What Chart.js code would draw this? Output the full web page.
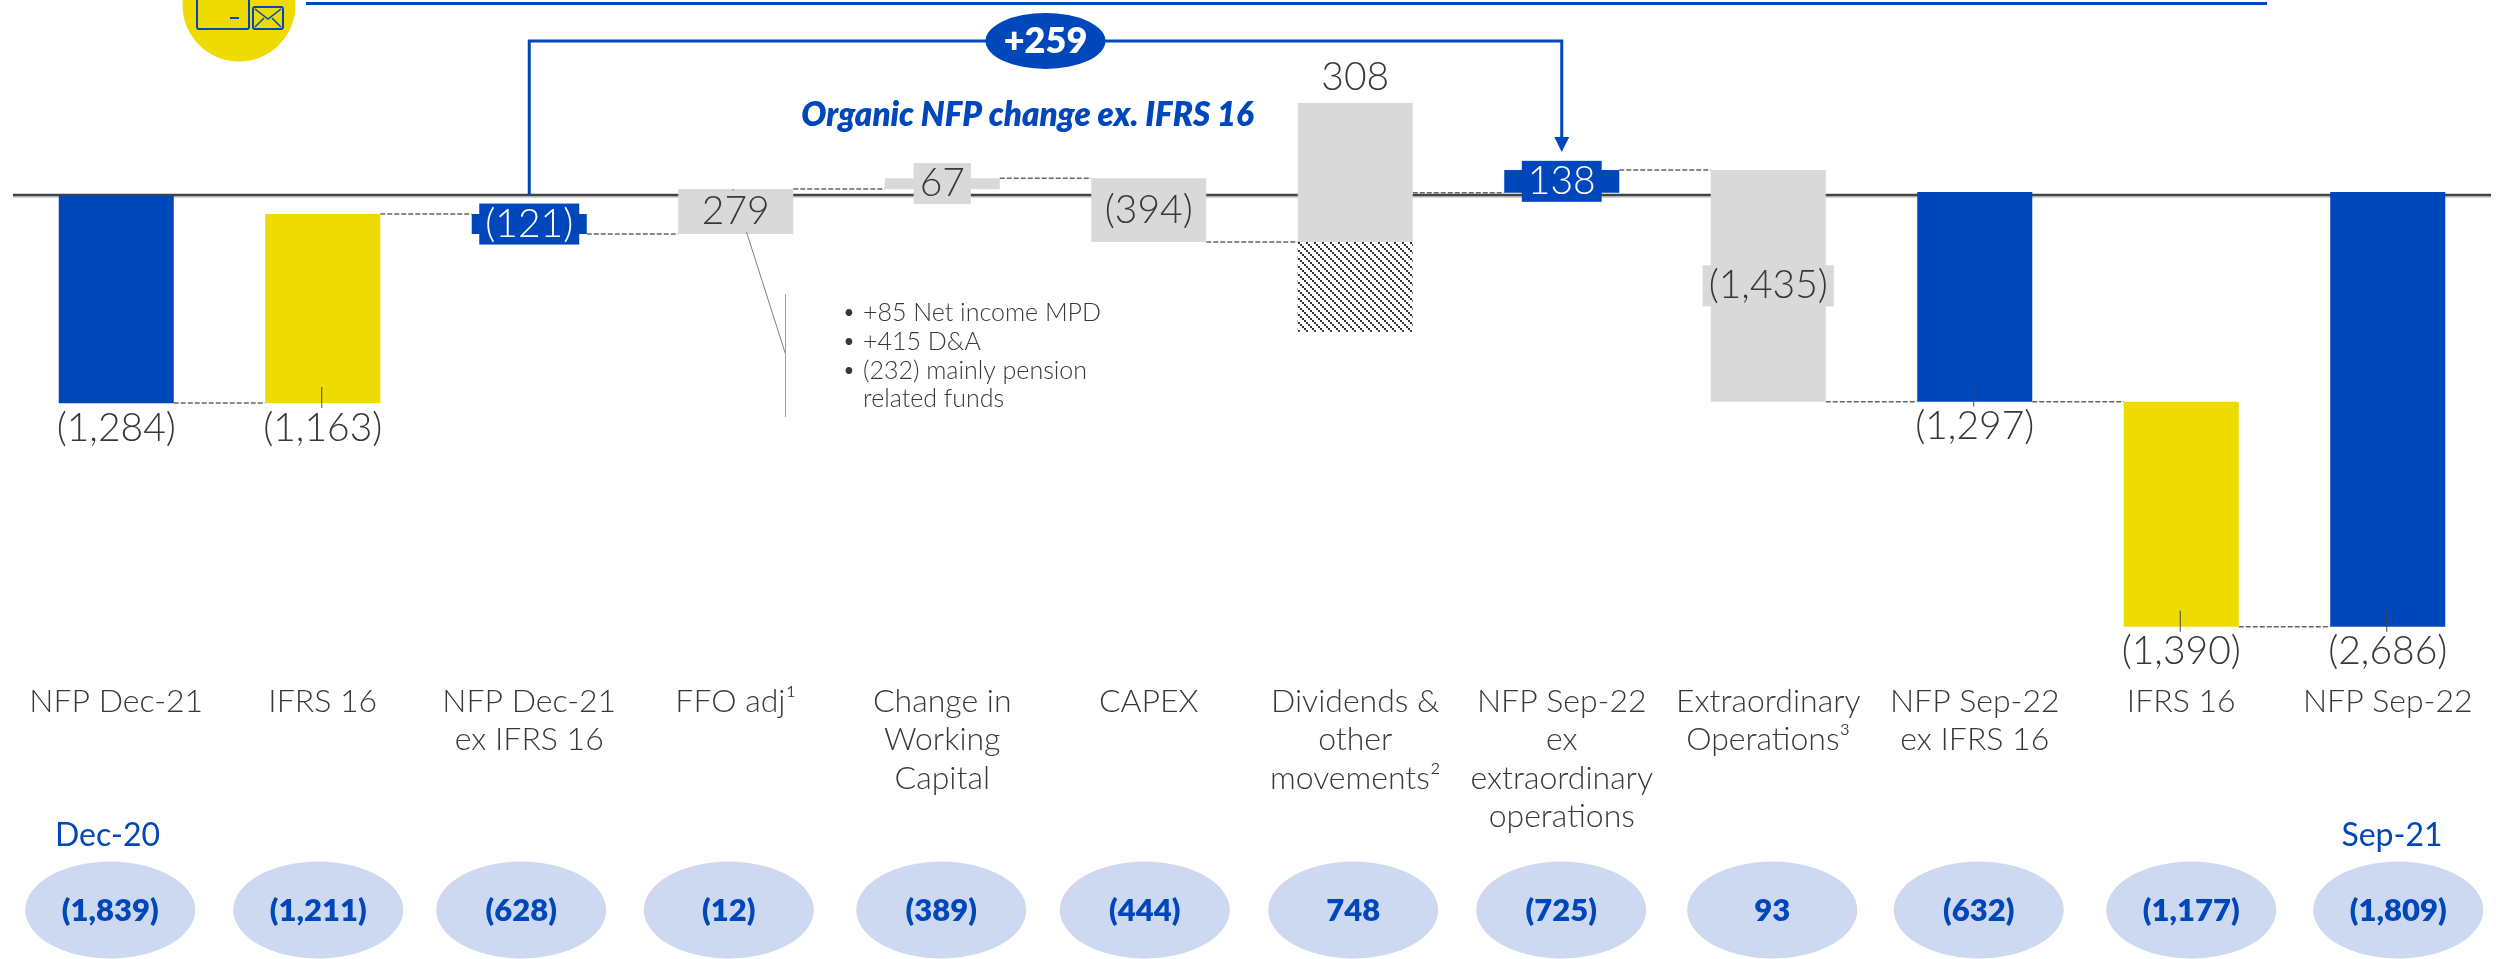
<!DOCTYPE html>
<html>
<head>
<meta charset="utf-8">
<title>NFP bridge</title>
<script src="https://cdn.jsdelivr.net/npm/chart.js@4/dist/chart.umd.min.js"></script>
<style>
    html, body { margin: 0; padding: 0; background: #fff; overflow: hidden; }
    canvas { display: block; }
</style>
</head>
<body>
<canvas id="bridge-chart" width="2496" height="959"></canvas>
<script>
const categories = [
    ['NFP Dec-21'], ['IFRS 16'], ['NFP Dec-21', 'ex IFRS 16'], ['FFO adj¹'],
    ['Change in', 'Working', 'Capital'], ['CAPEX'], ['Dividends &', 'other', 'movements²'],
    ['NFP Sep-22', 'ex', 'extraordinary', 'operations'], ['Extraordinary', 'Operations³'],
    ['NFP Sep-22', 'ex IFRS 16'], ['IFRS 16'], ['NFP Sep-22']
];
// bar ends, same units as the labels
const barTops = [0, -115, -115, 40, 107, 106, 572, 158, 158, 22, -1274, 22];
const barBottoms = [-1284, -1282, -238, -238, 40, -287, -287, 17, -1274, -1274, -2665, -2665];
const hatchTop = -287;
const hatchBottom = -842;
const valueLabels = ['(1,284)', '(1,163)', '(121)', '279', '67', '(394)', '308', '138', '(1,435)', '(1,297)', '(1,390)', '(2,686)'];
const priorValues = ['(1,839)', '(1,211)', '(628)', '(12)', '(389)', '(444)', '748', '(725)', '93', '(632)', '(1,177)', '(1,809)'];
const connectorLevels = [-1282, -115, -238, 40, 107, -287, 17, 158, -1274, -1274, -2665];
const bracketLevel = 955;
const arrowTipLevel = 269;
const bracketLabel = '+259';
const bracketTitle = 'Organic NFP change ex. IFRS 16';
const ffoNotes = ['+85 Net income MPD', '+415 D&A', '(232) mainly pension', 'related funds'];
const priorDates = ['Dec-20', 'Sep-21'];

const BLUE = '#0047bb';
const YELLOW = '#eedc00';
const GREY = '#d9d9d9';
const PALE = '#ccd9f0';
const TEXT = '#383838';
const FONT = 'Lato, "Open Sans", sans-serif';

const barColors = [BLUE, YELLOW, BLUE, GREY, GREY, GREY, GREY, BLUE, GREY, BLUE, YELLOW, BLUE];
const labelInside = [false, false, true, true, true, true, false, true, true, false, false, false];
const labelTextColors = [TEXT, TEXT, '#fff', TEXT, TEXT, TEXT, TEXT, '#fff', TEXT, TEXT, TEXT, TEXT];
const leaderTicks = [1, 9, 10, 11];
const bubbleNudge = [-6, -4.5, -8, -7, -1, -4, -2, -0.5, 4, 4, 10, 10.5];

function hatchPattern() {
    const tile = document.createElement('canvas');
    tile.width = 8;
    tile.height = 8;
    const c = tile.getContext('2d');
    c.fillStyle = '#fff';
    c.fillRect(0, 0, 8, 8);
    c.fillStyle = '#333';
    for (let i = 0; i < 8; i += 2) {
        c.fillRect(i, i, 2, 2);
    }
    return c.createPattern(tile, 'repeat');
}

function line(ctx, points, color, width, dash) {
    ctx.save();
    ctx.strokeStyle = color;
    ctx.lineWidth = width;
    ctx.setLineDash(dash || []);
    ctx.beginPath();
    points.forEach((p, i) => (i ? ctx.lineTo(p[0], p[1]) : ctx.moveTo(p[0], p[1])));
    ctx.stroke();
    ctx.restore();
}

function text(ctx, str, x, y, font, color, align) {
    ctx.save();
    ctx.font = font;
    ctx.fillStyle = color;
    ctx.textAlign = align || 'center';
    ctx.textBaseline = 'middle';
    ctx.fillText(str, x, y);
    ctx.restore();
}

function ellipse(ctx, cx, cy, rx, ry, color) {
    ctx.fillStyle = color;
    ctx.beginPath();
    ctx.ellipse(cx, cy, rx, ry, 0, 0, Math.PI * 2);
    ctx.fill();
}

const backdrop = {
    id: 'backdrop',
    beforeDatasetsDraw(chart) {
        const { ctx, chartArea, scales: { x, y } } = chart;
        const bars = chart.getDatasetMeta(0).data;
        const zero = y.getPixelForValue(0);

        line(ctx, [[chartArea.left, zero + 1.5], [chartArea.right, zero + 1.5]], '#c8c8c8', 1.5);
        line(ctx, [[chartArea.left, zero - 0.5], [chartArea.right, zero - 0.5]], '#444', 2.5);

        connectorLevels.forEach((level, i) => {
            const py = y.getPixelForValue(level);
            line(ctx, [[bars[i].x + bars[i].width / 2, py], [bars[i + 1].x - bars[i + 1].width / 2, py]], '#666', 1.5, [5, 2]);
        });
    }
};

const overlay = {
    id: 'overlay',
    afterDatasetsDraw(chart) {
        const { ctx, scales: { x, y } } = chart;
        const bars = chart.getDatasetMeta(0).data;

        // yellow badge cut by the top edge, with its small icon
        ellipse(ctx, 239, 5, 56.5, 56.5, YELLOW);
        ctx.strokeStyle = BLUE;
        ctx.lineWidth = 2;
        ctx.beginPath();
        ctx.roundRect(197, -6, 52, 35, 2);
        ctx.roundRect(253, 7, 30, 22, 2);
        ctx.stroke();
        line(ctx, [[230, 18], [239, 18]], BLUE, 2);
        line(ctx, [[255, 9], [268, 19], [281, 9]], BLUE, 1.5);
        line(ctx, [[255, 27], [264, 18]], BLUE, 1.5);
        line(ctx, [[281, 27], [272, 18]], BLUE, 1.5);
        line(ctx, [[306, 3.5], [2267, 3.5]], BLUE, 3);

        // +259 bracket
        const bracketY = y.getPixelForValue(bracketLevel);
        const tipY = y.getPixelForValue(arrowTipLevel);
        const fromX = x.getPixelForValue(2);
        const toX = x.getPixelForValue(7);
        line(ctx, [[fromX, y.getPixelForValue(0) - 1], [fromX, bracketY], [toX, bracketY], [toX, tipY - 8]], BLUE, 3);
        ctx.fillStyle = BLUE;
        ctx.beginPath();
        ctx.moveTo(toX - 7.5, tipY - 15);
        ctx.lineTo(toX + 7.5, tipY - 15);
        ctx.lineTo(toX, tipY);
        ctx.closePath();
        ctx.fill();
        const midX = (fromX + toX) / 2;
        ellipse(ctx, midX, bracketY, 60, 28, BLUE);
        text(ctx, bracketLabel, midX, bracketY, `800 36px ${FONT}`, '#fff');
        text(ctx, bracketTitle, midX - 18, y.getPixelForValue(0) - 80, `italic 800 33px ${FONT}`, BLUE);

        // note attached to FFO adj
        const ffo = bars[3];
        line(ctx, [[ffo.x - 3, ffo.base], [785.5, 354]], '#808080', 1);
        line(ctx, [[785.5, 294], [785.5, 417]], '#a0a0a0', 1);
        const noteY = [313, 342, 371, 399];
        ffoNotes.forEach((note, i) => {
            if (i < 3) {
                text(ctx, '•', 849, noteY[i], `300 23px ${FONT}`, TEXT);
            }
            text(ctx, note, 863, noteY[i], `300 25px ${FONT}`, TEXT, 'left');
        });

        // short leader ticks from bar into its label
        leaderTicks.forEach(i => {
            const bottom = y.getPixelForValue(barBottoms[i]);
            line(ctx, [[bars[i].x - 1, bottom - 16], [bars[i].x - 1, bottom + 5]], '#444', 1);
        });

        // value labels
        valueLabels.forEach((label, i) => {
            const bar = bars[i];
            const font = `300 39px ${FONT}`;
            let labelY;
            if (labelInside[i]) {
                labelY = (y.getPixelForValue(barTops[i]) + y.getPixelForValue(barBottoms[i])) / 2;
                ctx.font = font;
                const w = ctx.measureText(label).width + 12;
                ctx.fillStyle = barColors[i];
                ctx.fillRect(bar.x - w / 2, labelY - 20.5, w, 41);
            } else if (i === 6) {
                labelY = y.getPixelForValue(barTops[i]) - 26;
            } else {
                labelY = y.getPixelForValue(barBottoms[i]) + 25;
            }
            text(ctx, label, bar.x, labelY, font, labelTextColors[i]);
        });

        // prior period bubbles
        priorValues.forEach((value, i) => {
            const cx = bars[i].x + bubbleNudge[i];
            ellipse(ctx, cx, 910, 85, 48.5, PALE);
            text(ctx, value, cx, 911, `800 31px ${FONT}`, BLUE);
        });
        text(ctx, priorDates[0], 107.5, 836, `400 32px ${FONT}`, BLUE);
        text(ctx, priorDates[1], 2392, 836, `400 32px ${FONT}`, BLUE);
    }
};

new Chart(document.getElementById('bridge-chart'), {
    type: 'bar',
    data: {
        labels: categories,
        datasets: [
            {
                data: categories.map((c, i) => [barBottoms[i], barTops[i]]),
                backgroundColor: barColors,
                barPercentage: 0.557,
                categoryPercentage: 1,
                grouped: false,
                order: 1
            },
            {
                data: categories.map((c, i) => (i === 6 ? [hatchBottom, hatchTop] : null)),
                backgroundColor: hatchPattern(),
                barPercentage: 0.557,
                categoryPercentage: 1,
                grouped: false,
                order: 2
            }
        ]
    },
    options: {
        responsive: false,
        animation: false,
        layout: { padding: { left: 13, right: 5, top: 0, bottom: 0 } },
        plugins: { legend: { display: false }, tooltip: { enabled: false } },
        scales: {
            x: {
                grid: { display: false },
                border: { display: false },
                afterFit: scale => { scale.height = 279; },
                ticks: {
                    autoSkip: false,
                    maxRotation: 0,
                    padding: -5,
                    color: TEXT,
                    font: { family: FONT, size: 32, weight: '300', lineHeight: 1.19 }
                }
            },
            y: {
                display: false,
                min: -2994,
                max: 1208
            }
        }
    },
    plugins: [backdrop, overlay]
});
</script>
</body>
</html>
